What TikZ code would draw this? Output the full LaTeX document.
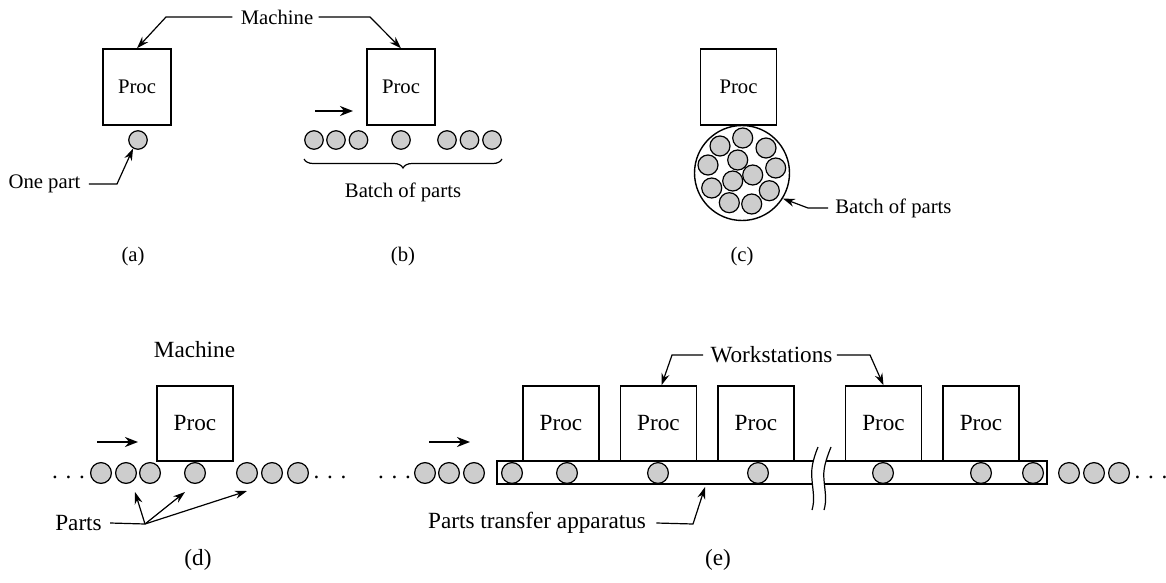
\documentclass[tikz,border=0pt]{standalone}
\usepackage{fontspec}
\setmainfont{Liberation Serif}
\usetikzlibrary{arrows.meta,decorations.pathreplacing}
\definecolor{partgray}{RGB}{205,205,205}
\begin{document}
\begin{tikzpicture}[x=0.5pt,y=-0.5pt,
  every node/.style={font=\fontsize{10.35}{12}\selectfont},
  big/.style={font=\fontsize{11.6}{13}\selectfont},
  lbl/.style={inner sep=0pt},
  procbox/.style={draw,line width=0.7pt,inner sep=0pt,minimum width=38pt,minimum height=37.5pt},
  procsmall/.style={procbox,minimum width=34pt,minimum height=38pt},
  partS/.style={circle,draw,fill=partgray,line width=0.6pt,inner sep=0pt,minimum size=9.25pt},
  partL/.style={circle,draw,fill=partgray,line width=0.6pt,inner sep=0pt,minimum size=10.4pt},
  callout/.style={draw,line width=0.6pt,-{Stealth[length=6pt,width=4pt]}},
  flowarrow/.style={draw,line width=1.4pt,-{Stealth[length=6.5pt,width=5pt]}}
]
\useasboundingbox (0,0) rectangle (1166,583);

% ---------- (a) ----------
\node[procsmall] (pa) at (137,87) {Proc};
\node[partS] (parta) at (138,140) {};
\node[lbl] (mach) at (277,17) {Machine};
\node[lbl] (onepart) at (44.5,184) {One part};
\node[lbl] (capa) at (133,257) {(a)};
\draw[callout] ([xshift=-4pt]mach.west) -- (166,17) -- (pa.north);
\draw[callout] ([xshift=4pt]onepart.east) -- (117,184) -- (parta.240);

% ---------- (b) ----------
\node[procsmall] (pb) at (401,87) {Proc};
\draw[callout] ([xshift=2.5pt]mach.east) -- (370,17) -- (pb.north);
\coordinate (fb1) at (315,111);
\coordinate (fb2) at (353,111);
\draw[flowarrow] (fb1) -- (fb2);
\foreach \i/\x in {1/314,2/336,3/358.5,4/401,5/447,6/469.5,7/492}
  \node[partS] (pb\i) at (\x,140) {};
\coordinate (brl) at (304,159);
\coordinate (brr) at (502,159);
\draw[line width=0.6pt,decorate,decoration={brace,mirror,amplitude=4.5pt}] (brl) -- (brr);
\node[lbl] (batchb) at (403,192) {Batch of parts};
\node[lbl] (capb) at (403,257) {(b)};

% ---------- (c) ----------
\node[procbox,minimum height=38pt] (pc) at (738.5,87) {Proc};
\node[circle,draw,line width=0.7pt,inner sep=0pt,minimum size=47.5pt] (bigc) at (742,173) {};
\foreach \i/\x/\y in {1/720/146,2/742.7/138,3/766/148,4/708/165,5/737.7/160,6/775.7/168,
  7/752.7/175,8/732.7/181,9/711.7/188,10/769.3/190.7,11/729.3/202.7,12/751.7/204}
  \node[partS,minimum size=10pt] (pc\i) at (\x,\y) {};
\node[lbl,anchor=west] (batchc) at (835,208) {Batch of parts};
\draw[callout] ([xshift=-3.5pt]batchc.west) -- (808,208) -- (bigc.-32);
\node[lbl] (capc) at (742,257) {(c)};

% ---------- (d) ----------
\node[lbl,big] (machd) at (194.5,350) {Machine};
\node[procbox,big] (pd) at (195,423.5) {Proc};
\coordinate (fd1) at (97,442);
\coordinate (fd2) at (138,442);
\draw[flowarrow] (fd1) -- (fd2);
\foreach \i/\x in {1/101,2/126,3/150,4/195,5/247,6/272,7/298}
  \node[partL] (pd\i) at (\x,473) {};
\node[lbl,big,anchor=base] (dotsd1) at (68.5,478) {. . .};
\node[lbl,big,anchor=base] (dotsd2) at (330,478) {. . .};
\node[lbl,big] (partsd) at (78.5,523) {Parts};
\coordinate (pfork) at (145,524);
\coordinate (pt1) at (135,492);
\coordinate (pt2) at (185,492);
\coordinate (pt3) at (247,491);
\draw[line width=0.6pt] ([xshift=4pt]partsd.east) -- (pfork);
\draw[callout] (pfork) -- (pt1);
\draw[callout] (pfork) -- (pt2);
\draw[callout] (pfork) -- (pt3);
\node[lbl,big] (capd) at (198,560) {(d)};

% ---------- (e) ----------
\coordinate (fe1) at (429,442);
\coordinate (fe2) at (470,442);
\draw[flowarrow] (fe1) -- (fe2);
\node[lbl,big,anchor=base] (dotse1) at (394.5,478) {. . .};
\foreach \i/\x in {1/425,2/449,3/474}
  \node[partL] (pe\i) at (\x,473) {};
\node[draw,line width=0.7pt,inner sep=0pt,minimum width=275pt,minimum height=11.5pt] (conv) at (772,472.5) {};
\foreach \i/\x in {1/561,2/658.5,3/756,4/883.5,5/981}
  \node[procbox,big] (w\i) at (\x,423.5) {Proc};
% break in the transfer apparatus
\fill[white] (818,447) .. controls (812,462) and (811,470) .. (812,480)
  .. controls (813,492) and (815,500) .. (812,510) -- (824,510)
  .. controls (827,500) and (825,492) .. (824,480)
  .. controls (823,470) and (825,462) .. (831,447) -- cycle;
\draw[line width=0.6pt] (818,447) .. controls (812,462) and (811,470) .. (812,480)
  .. controls (813,492) and (815,500) .. (812,510);
\draw[line width=0.6pt] (831,447) .. controls (825,462) and (823,470) .. (824,480)
  .. controls (825,492) and (827,500) .. (824,510);
\foreach \i/\x in {1/512,2/567,3/658,4/758,5/883,6/981,7/1033}
  \node[partL] (pk\i) at (\x,473) {};
\foreach \i/\x in {1/1069,2/1094,3/1119}
  \node[partL] (pr\i) at (\x,473) {};
\node[lbl,big,anchor=base] (dotse2) at (1151,478) {. . .};
\node[lbl,big] (works) at (771.5,355) {Workstations};
\draw[callout] ([xshift=-3.5pt]works.west) -- (672,355) -- ([xshift=1.5pt]w2.north);
\draw[callout] ([xshift=2pt]works.east) -- (870,355) -- (w4.north);
\node[lbl,big] (transfer) at (537,523) {Parts transfer apparatus};
\coordinate (convtip) at (705,487);
\draw[callout] ([xshift=5pt]transfer.east) -- (693,524) -- (convtip);
\node[lbl,big] (cape) at (718,560) {(e)};
\end{tikzpicture}
\end{document}
